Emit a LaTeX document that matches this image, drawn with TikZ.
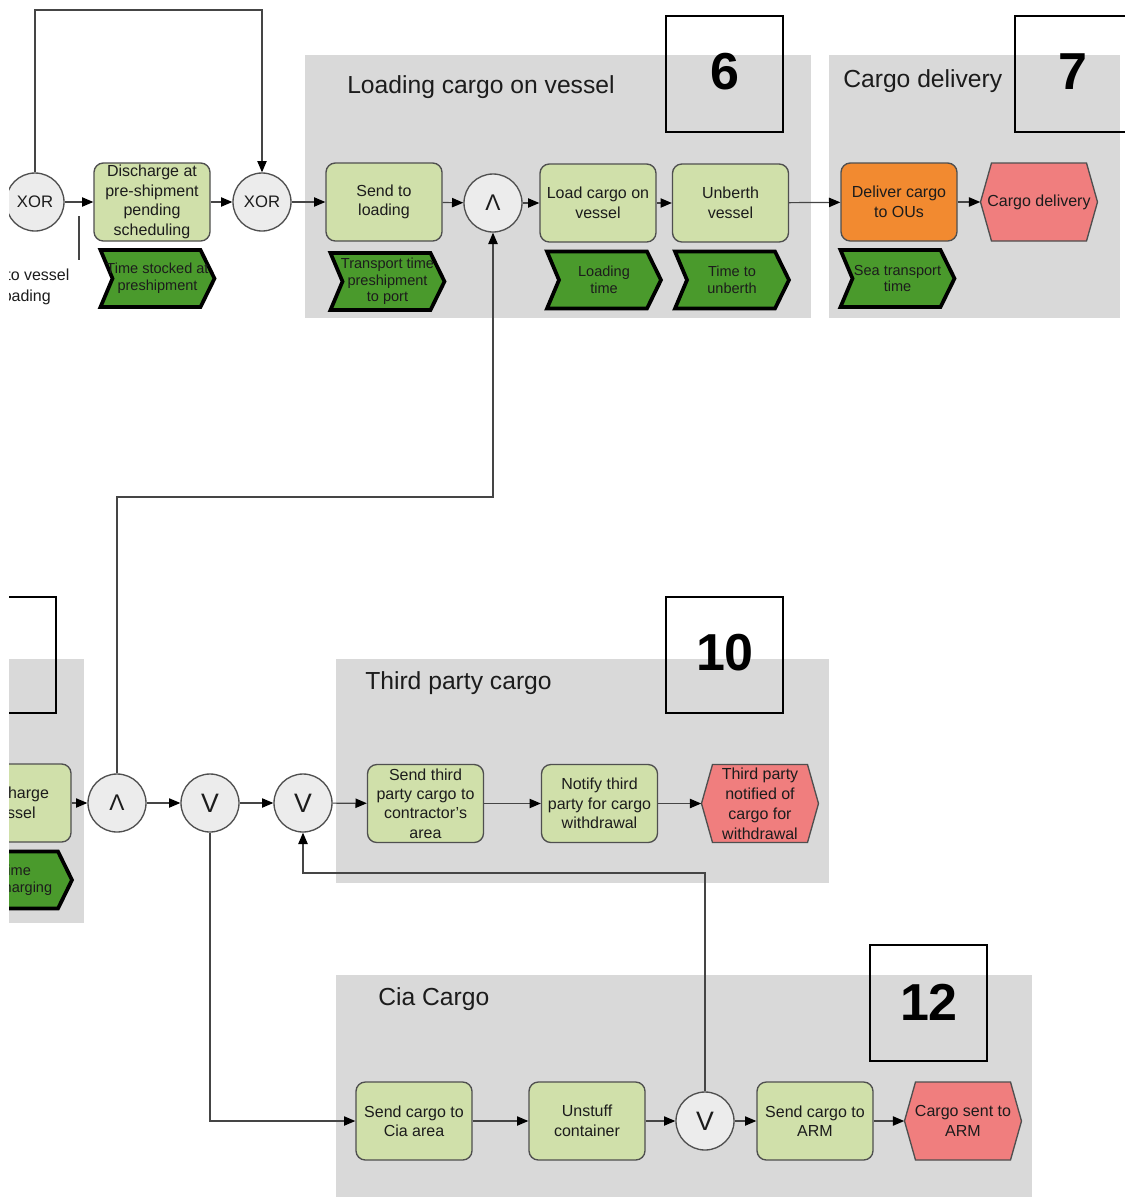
\documentclass[tikz,border=0pt]{standalone}
\usepackage{fontspec}
\setmainfont{Liberation Sans}
\usetikzlibrary{arrows.meta}

\definecolor{lanegrey}{HTML}{D9D9D9}
\definecolor{funcfill}{HTML}{D0E0AA}
\definecolor{funcline}{HTML}{4F4F4F}
\definecolor{timefill}{HTML}{4A9A2C}
\definecolor{orangefill}{HTML}{F28A30}
\definecolor{eventfill}{HTML}{F07E7E}
\definecolor{gatefill}{HTML}{ECECEC}
\definecolor{wire}{HTML}{454545}
\definecolor{ink}{HTML}{1C1C1C}

\tikzset{
  lane/.style={fill=lanegrey,draw=none},
  numbox/.style={draw=black,line width=1.5pt,fill=none},
  func/.style={rectangle,rounded corners=7pt,draw=funcline,line width=1pt,fill=funcfill,
    minimum width=87pt,minimum height=58.5pt,inner sep=0pt,align=center,text=ink,
    font=\fontsize{12}{14.6}\selectfont},
  gate/.style={circle,draw=funcline,line width=1pt,fill=gatefill,minimum size=43.5pt,
    inner sep=0pt,text=ink},
  xorlbl/.style={font=\fontsize{12.5}{14}\selectfont},
  andlbl/.style={font=\fontsize{17}{18}\selectfont},
  orlbl/.style={font=\fontsize{20}{22}\selectfont},
  chevpath/.style={fill=timefill,draw=black,line width=2.8pt,line join=miter},
  chevtext/.style={rectangle,minimum width=85.5pt,minimum height=42.75pt,inner sep=0pt,
    align=center,text=ink,font=\fontsize{10.9}{12.4}\selectfont},
  evpath/.style={fill=eventfill,draw=funcline,line width=1pt},
  evtext/.style={rectangle,minimum width=87.75pt,minimum height=58.5pt,inner sep=0pt,
    align=center,text=ink,font=\fontsize{12}{15}\selectfont},
  lanetitle/.style={anchor=west,inner sep=0pt,text=ink,font=\fontsize{18.5}{20}\selectfont},
  numlbl/.style={inner sep=0pt,text=black,font=\fontsize{39}{40}\selectfont\bfseries},
  flow/.style={draw=wire,line width=0.9pt,-{Triangle[length=8.5pt,width=7pt,color=black]}},
  wireonly/.style={draw=wire,line width=0.9pt},
}

% time chevron: name, centre x, centre y, text
\newcommand\chevshape[4]{%
  \draw[chevpath] ({#2-57},{#3-28.5}) -- ({#2+43},{#3-28.5}) -- ({#2+57},#3)
    -- ({#2+43},{#3+28.5}) -- ({#2-57},{#3+28.5}) -- ({#2-45},#3) -- cycle;
  \node[chevtext] (#1) at (#2,#3) {#4};}

% event hexagon: name, centre x, centre y, text
\newcommand\eventshape[4]{%
  \draw[evpath] ({#2-58.5},#3) -- ({#2-47.5},{#3-39}) -- ({#2+47.5},{#3-39})
    -- ({#2+58.5},#3) -- ({#2+47.5},{#3+39}) -- ({#2-47.5},{#3+39}) -- cycle;
  \node[evtext] (#1) at (#2,#3) {#4};}

\begin{document}
\begin{tikzpicture}[x=0.75pt,y=-0.75pt]
\useasboundingbox (0,0) rectangle (1125,1197);
\clip (9,0) rectangle (1125,1197);

% lanes
\fill[lane] (305,55) rectangle (811,318);
\fill[lane] (829,55) rectangle (1120,318);
\fill[lane] (-100,659) rectangle (84,923);
\fill[lane] (336,659) rectangle (829,883);
\fill[lane] (336,975) rectangle (1032,1210);

% lane titles and numbers
\node[lanetitle] (t6) at (347,87) {Loading cargo on vessel};
\node[lanetitle] (t7) at (843,81) {Cargo delivery};
\node[lanetitle] (t10) at (365,683) {Third party cargo};
\node[lanetitle] (t12) at (378,999) {Cia Cargo};

\draw[numbox] (666,16) rectangle (783,132);
\draw[numbox] (1015,16) rectangle (1140,132);
\draw[numbox] (666,597) rectangle (783,713);
\draw[numbox] (870,945) rectangle (987,1061);
\draw[numbox] (-60,597) rectangle (56,713);
\node[numlbl] (n6) at (725,72) {6};
\node[numlbl] (n7) at (1073,72) {7};
\node[numlbl] (n10) at (725,653) {10};
\node[numlbl] (n12) at (929,1002) {12};

% upper flow
\node[gate,xorlbl] (xor1) at (35,202) {XOR};
\node[func] (dps) at (152,202) {Discharge at\\pre-shipment\\pending\\scheduling};
\node[gate,xorlbl] (xor2) at (262,202) {XOR};
\node[func] (stl) at (384,202) {Send to\\loading};
\node[gate,andlbl] (and1) at (493,203) {Λ};
\node[func] (lcv) at (598,203) {Load cargo on\\vessel};
\node[func] (unb) at (730.5,203) {Unberth\\vessel};
\node[func,fill=orangefill] (dlv) at (899,202) {Deliver cargo\\to OUs};
\eventshape{cdl}{1039}{202}{Cargo delivery}

\chevshape{c1}{157.5}{278.5}{Time stocked at\\preshipment}
\chevshape{c2}{387.5}{281.5}{Transport time\\preshipment\\to port}
\chevshape{c3}{604}{280}{Loading\\time}
\chevshape{c4}{732}{280}{Time to\\unberth}
\chevshape{c5}{897.5}{278.5}{Sea transport\\time}

\node[align=center,inner sep=0pt,text=ink,font=\fontsize{12}{15.75}\selectfont]
  (govessel) at (25,287) {Go to vessel\\loading};

% lower flow
\node[func] (disv) at (13,803) {Discharge\\vessel};
\chevshape{c6}{15}{880}{Time\\discharging}
\node[gate,andlbl] (and2) at (117,803) {Λ};
\node[gate,orlbl] (or1) at (210,803) {V};
\node[gate,orlbl] (or2) at (303,803) {V};
\node[func] (stp) at (425.5,803.5) {Send third\\party cargo to\\contractor's\\area};
\node[func] (ntp) at (599.5,803.5) {Notify third\\party for cargo\\withdrawal};
\eventshape{tpn}{760}{803.5}{Third party\\notified of\\cargo for\\withdrawal}

\node[func] (sca) at (414,1121) {Send cargo to\\Cia area};
\node[func] (uns) at (587,1121) {Unstuff\\container};
\node[gate,orlbl] (or3) at (705,1121) {V};
\node[func] (sar) at (815,1121) {Send cargo to\\ARM};
\eventshape{csa}{963}{1121}{Cargo sent to\\ARM}

% connectors
\coordinate (looptop) at (150,10);
\coordinate (stubtop) at (79,216);
\coordinate (stubbot) at (79,260);
\coordinate (midbend) at (300,497);
\coordinate (backbend) at (500,873);

\draw[flow] (xor1) -- (dps);
\draw[flow] (dps) -- (xor2);
\draw[flow] (xor2) -- (stl);
\draw[flow] (stl) -- (and1);
\draw[flow] (and1) -- (lcv);
\draw[flow] (lcv) -- (unb);
\draw[flow] (unb) -- (dlv);
\draw[flow] (dlv) -- (cdl);
\draw[flow] (xor1.north) |- (looptop) -| (xor2.north);
\draw[wireonly] (stubtop) -- (stubbot);

\draw[flow] (disv) -- (and2);
\draw[flow] (and2) -- (or1);
\draw[flow] (or1) -- (or2);
\draw[flow] (or2) -- (stp);
\draw[flow] (stp) -- (ntp);
\draw[flow] (ntp) -- (tpn);
\draw[flow] (and2.north) |- (midbend) -| (and1.south);
\draw[flow] (or1.south) |- (sca.west);
\draw[flow] (sca) -- (uns);
\draw[flow] (uns) -- (or3);
\draw[flow] (or3) -- (sar);
\draw[flow] (sar) -- (csa);
\draw[flow] (or3.north) |- (backbend) -| (or2.south);
\end{tikzpicture}
\end{document}
